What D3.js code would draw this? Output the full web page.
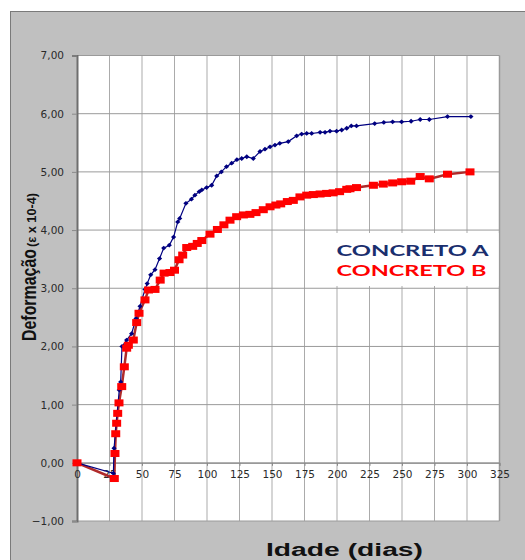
<!DOCTYPE html>
<html>
<head>
<meta charset="utf-8">
<script src="https://cdn.jsdelivr.net/npm/d3@7"></script>
<style>
  html, body { margin: 0; padding: 0; background: #ffffff; }
  svg { display: block; }
</style>
</head>
<body>
<svg id="chart" width="525" height="560"></svg>
<script>
// ---- data ----
const daysA = [0, 28, 28.5, 32.5, 33.6, 34.6, 38.2, 42, 45.4, 48.5,
  52.3, 54, 56.7, 60, 63.5, 66.7, 71, 74.3, 77.5, 79,
  83.8, 88, 90.7, 94, 96, 99.7, 103.6, 107.5, 111, 115,
  119, 123, 126.7, 130.6, 135.6, 140.8, 144.6, 148.5, 152.3, 156,
  162.5, 169, 172.8, 176.7, 180.5, 187, 190.8, 194.6, 199.7, 203.6,
  207.5, 211, 215, 229, 236, 242.8, 249.7, 257, 264, 271,
  285, 303];
const valuesA = [0, -0.18, 0.25, 1.25, 1.39, 2.0, 2.11, 2.22, 2.48, 2.69,
  2.98, 3.08, 3.23, 3.32, 3.51, 3.69, 3.74, 3.88, 4.14, 4.2,
  4.46, 4.53, 4.6, 4.66, 4.69, 4.73, 4.77, 4.93, 5.0, 5.09,
  5.15, 5.21, 5.23, 5.26, 5.23, 5.35, 5.39, 5.43, 5.46, 5.49,
  5.52, 5.62, 5.65, 5.66, 5.66, 5.68, 5.68, 5.70, 5.70, 5.72,
  5.75, 5.79, 5.79, 5.83, 5.85, 5.86, 5.86, 5.87, 5.90, 5.90,
  5.95, 5.95];

const daysB = [0, 28.7, 29.2, 29.8, 30.5, 31.3, 32.3, 34.4, 36.4, 38.2,
  39.5, 43.3, 45.9, 47.7, 52.3, 55, 60, 64, 67, 71.5,
  75, 78.5, 81.3, 84.4, 89, 92.5, 96, 102.3, 108, 113,
  117.7, 122.8, 128, 133, 137.7, 143.3, 148.5, 153, 156.7, 161.8,
  166.4, 171.5, 176.7, 181.8, 187, 192, 197, 202, 207.5, 210,
  215, 228, 235.6, 242.8, 249.7, 256.7, 264, 271, 285, 302.3];
const valuesB = [0, -0.27, 0.16, 0.5, 0.68, 0.85, 1.03, 1.31, 1.65, 1.97,
  2.02, 2.11, 2.41, 2.57, 2.8, 2.97, 2.98, 3.14, 3.26, 3.27,
  3.31, 3.49, 3.57, 3.70, 3.72, 3.77, 3.82, 3.93, 4.01, 4.09,
  4.17, 4.23, 4.26, 4.27, 4.30, 4.35, 4.40, 4.43, 4.45, 4.49,
  4.51, 4.57, 4.60, 4.61, 4.62, 4.63, 4.64, 4.66, 4.70, 4.71,
  4.73, 4.77, 4.79, 4.81, 4.83, 4.84, 4.92, 4.88, 4.96, 5.0];

const xTicks = [0, 25, 50, 75, 100, 125, 150, 175, 200, 225, 250, 275, 300, 325];
const yTicks = [-1, 0, 1, 2, 3, 4, 5, 6, 7];
const seriesNames = ["CONCRETO A", "CONCRETO B"];
const xTitle = "Idade (dias)";
const yTitleMain = "Deformação";
const yTitleUnit = "(ε x 10-4)";

// ---- layout ----
const svg = d3.select("#chart");
const x = d3.scaleLinear().domain([0, 325]).range([77, 499.5]);
const y = d3.scaleLinear().domain([-1, 7]).range([521, 55.5]);

// outer gray panel
svg.append("rect").attr("x", 10).attr("y", 11).attr("width", 530).attr("height", 560)
  .attr("fill", "#c0c0c0");
svg.append("line").attr("x1", 10).attr("x2", 525).attr("y1", 11.5).attr("y2", 11.5)
  .attr("stroke", "#7a7a7a").attr("stroke-width", 1);
svg.append("line").attr("x1", 10.5).attr("x2", 10.5).attr("y1", 11).attr("y2", 560)
  .attr("stroke", "#7a7a7a").attr("stroke-width", 1);

// plot area
svg.append("rect")
  .attr("x", x(0)).attr("y", y(7))
  .attr("width", x(325) - x(0)).attr("height", y(-1) - y(7))
  .attr("fill", "#ffffff");

// gridlines
svg.append("g").selectAll("line").data(xTicks.filter(d => d > 0)).join("line")
  .attr("x1", d => x(d)).attr("x2", d => x(d))
  .attr("y1", y(7)).attr("y2", y(-1))
  .attr("stroke", "#ababab").attr("stroke-width", 1);
svg.append("g").selectAll("line").data(yTicks).join("line")
  .attr("x1", x(0)).attr("x2", x(325))
  .attr("y1", d => y(d)).attr("y2", d => y(d))
  .attr("stroke", "#9a9a9a").attr("stroke-width", 1);

// right border
svg.append("line").attr("x1", x(325)).attr("x2", x(325)).attr("y1", y(7)).attr("y2", y(-1))
  .attr("stroke", "#9a9a9a").attr("stroke-width", 1.5);

// legend backdrop (covers gridlines)
svg.append("rect").attr("x", 321).attr("y", 233).attr("width", x(325) - 321 - 1).attr("height", 53)
  .attr("fill", "#ffffff");

const fmt = v => d3.format(".2f")(v).replace(".", ",");

// y axis
const yAxis = svg.append("g").attr("transform", `translate(${x(0)},0)`)
  .call(d3.axisLeft(y).tickValues(yTicks).tickFormat(fmt).tickSize(5).tickPadding(8));
yAxis.select(".domain").attr("stroke", "#6e6e6e").attr("stroke-width", 2);
yAxis.selectAll(".tick line").attr("stroke", "#8a8a8a");
yAxis.selectAll("text").attr("font-family", "DejaVu Sans, Verdana, sans-serif")
  .attr("font-size", 10.5).attr("fill", "#2a2a2a").attr("font-weight", "normal");

// x axis at y = 0
const xAxis = svg.append("g").attr("transform", `translate(0,${y(0)})`)
  .call(d3.axisBottom(x).tickValues(xTicks).tickFormat(d3.format("d")).tickSize(3).tickPadding(5));
xAxis.select(".domain").attr("stroke", "#8a8a8a").attr("stroke-width", 1);
xAxis.selectAll(".tick line").attr("stroke", "#8a8a8a");
xAxis.selectAll("text").attr("font-family", "DejaVu Sans, Verdana, sans-serif")
  .attr("font-size", 10.5).attr("fill", "#2a2a2a");

// series lines and markers
const ptsB = daysB.map((d, i) => [d, valuesB[i]]);
const ptsA = daysA.map((d, i) => [d, valuesA[i]]);
const line = d3.line().x(d => x(d[0])).y(d => y(d[1]));

svg.append("path").datum(ptsB).attr("d", line)
  .attr("fill", "none").attr("stroke", "#b02a2a").attr("stroke-width", 2.5);

svg.append("path").datum(ptsA).attr("d", line)
  .attr("fill", "none").attr("stroke", "#000080").attr("stroke-width", 1.2);

svg.append("g").selectAll("path").data(ptsA).join("path")
  .attr("d", d => {
    const cx = x(d[0]), cy = y(d[1]);
    return `M${cx - 2.6},${cy} L${cx},${cy - 2.4} L${cx + 2.6},${cy} L${cx},${cy + 2.4} Z`;
  })
  .attr("fill", "#000080");

svg.append("g").selectAll("rect").data(ptsB).join("rect")
  .attr("x", d => x(d[0]) - 4.5).attr("y", d => y(d[1]) - 3.5)
  .attr("width", 9).attr("height", 7)
  .attr("fill", "#ff0000");

// legend text
svg.append("text").attr("x", 336.5).attr("y", 255.5)
  .attr("font-family", "Lato, 'Open Sans', sans-serif").attr("font-weight", "bold")
  .attr("font-size", 16).attr("fill", "#1a2e6e")
  .attr("textLength", 152).attr("lengthAdjust", "spacingAndGlyphs")
  .text(seriesNames[0]);
svg.append("text").attr("x", 336.5).attr("y", 276)
  .attr("font-family", "Lato, 'Open Sans', sans-serif").attr("font-weight", "bold")
  .attr("font-size", 16).attr("fill", "#ff0000")
  .attr("textLength", 150).attr("lengthAdjust", "spacingAndGlyphs")
  .text(seriesNames[1]);

// axis titles
svg.append("text").attr("x", 266).attr("y", 555.5)
  .attr("font-family", "Liberation Sans, Arial, sans-serif").attr("font-weight", "bold")
  .attr("font-size", 18).attr("fill", "#111")
  .attr("textLength", 157).attr("lengthAdjust", "spacingAndGlyphs")
  .text(xTitle);

svg.append("text").attr("transform", "translate(35.5,341) rotate(-90)")
  .attr("font-family", "'Liberation Sans Narrow', 'Arial Narrow', 'Liberation Sans', sans-serif")
  .attr("font-size", 20).attr("font-weight", "bold").attr("fill", "#111")
  .attr("textLength", 92).attr("lengthAdjust", "spacingAndGlyphs")
  .text(yTitleMain);
svg.append("text").attr("transform", "translate(35.5,247) rotate(-90)")
  .attr("font-family", "Liberation Sans, Arial, sans-serif").attr("font-weight", "bold")
  .attr("font-size", 12.5).attr("fill", "#111")
  .attr("textLength", 54).attr("lengthAdjust", "spacingAndGlyphs")
  .text(yTitleUnit);
</script>
</body>
</html>
